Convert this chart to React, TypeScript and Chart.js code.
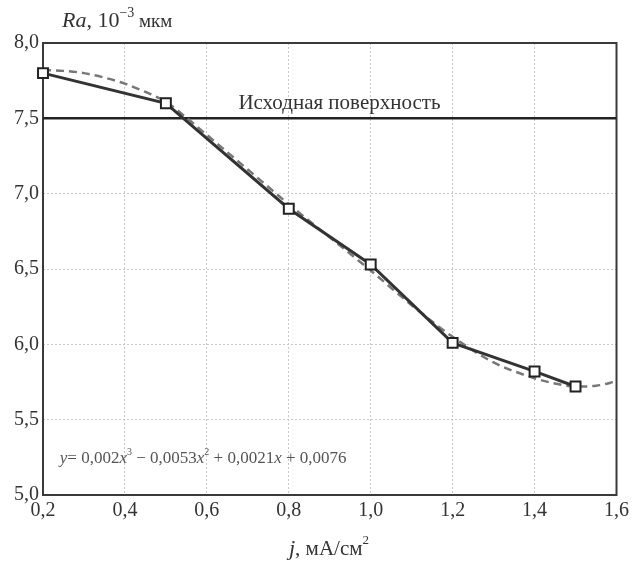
import React, { useEffect, useRef } from "react";
import { Chart, registerables } from "chart.js";

Chart.register(...registerables);

const measuredJ = [0.2, 0.5, 0.8, 1.0, 1.2, 1.4, 1.5];
const measuredRa = [7.8, 7.6, 6.9, 6.53, 6.01, 5.82, 5.72];

const trendJ = [0.2, 0.25, 0.3, 0.35, 0.4, 0.45, 0.5, 0.55, 0.6, 0.7, 0.8, 0.9, 1.0, 1.1, 1.2, 1.3, 1.4, 1.45, 1.5, 1.55, 1.6];
const trendRa = [7.82, 7.815, 7.8, 7.77, 7.73, 7.675, 7.61, 7.505, 7.39, 7.16, 6.93, 6.71, 6.49, 6.26, 6.05, 5.88, 5.775, 5.74, 5.72, 5.725, 5.755];

const baselineJ = [0.2, 1.6];
const baselineRa = [7.5, 7.5];

const xTicks = [0.2, 0.4, 0.6, 0.8, 1.0, 1.2, 1.4, 1.6];
const yTicks = [5.0, 5.5, 6.0, 6.5, 7.0, 7.5, 8.0];

const baselineLabel = "Исходная поверхность";
const SERIF = "'Liberation Serif', 'DejaVu Serif', serif";

type Seg = { t: string; style?: string; size: number; dy?: number };

function drawSegs(ctx: CanvasRenderingContext2D, segs: Seg[], x: number, y: number, color: string) {
  ctx.save();
  ctx.fillStyle = color;
  ctx.textBaseline = "alphabetic";
  ctx.textAlign = "left";
  let cx = x;
  for (const s of segs) {
    ctx.font = `${s.style || ""} ${s.size}px ${SERIF}`;
    ctx.fillText(s.t, cx, y + (s.dy || 0));
    cx += ctx.measureText(s.t).width;
  }
  ctx.restore();
}

function segsWidth(ctx: CanvasRenderingContext2D, segs: Seg[]) {
  let w = 0;
  ctx.save();
  for (const s of segs) {
    ctx.font = `${s.style || ""} ${s.size}px ${SERIF}`;
    w += ctx.measureText(s.t).width;
  }
  ctx.restore();
  return w;
}

const textPlugin = {
  id: "texts",
  beforeDatasetsDraw(chart: any) {
    const { ctx, chartArea } = chart;
    ctx.save();
    ctx.strokeStyle = "#3a3a3a";
    ctx.lineWidth = 2;
    ctx.strokeRect(chartArea.left, chartArea.top, chartArea.right - chartArea.left, chartArea.bottom - chartArea.top);
    ctx.restore();
  },
  afterDraw(chart: any) {
    const { ctx } = chart;
    const xs = chart.scales.x;
    const ys = chart.scales.y;
    drawSegs(ctx, [
      { t: "Ra", style: "italic", size: 22 },
      { t: ", 10", size: 22 },
      { t: "−3", size: 14, dy: -10 },
      { t: " мкм", size: 19 },
    ], 62, 27, "#333");
    const xt: Seg[] = [
      { t: "j", style: "italic", size: 22 },
      { t: ", мА/см", size: 21 },
      { t: "2", size: 13, dy: -11 },
    ];
    const w = segsWidth(ctx, xt);
    drawSegs(ctx, xt, 329 - w / 2, 555, "#333");
    ctx.save();
    ctx.font = `21px ${SERIF}`;
    ctx.fillStyle = "#333";
    ctx.textAlign = "left";
    ctx.textBaseline = "alphabetic";
    ctx.fillText(baselineLabel, xs.getPixelForValue(0.677), ys.getPixelForValue(7.56));
    ctx.restore();
    drawSegs(ctx, [
      { t: "y", style: "italic", size: 17 },
      { t: "= 0,002", size: 17 },
      { t: "x", style: "italic", size: 17 },
      { t: "3", size: 10, dy: -8 },
      { t: " − 0,0053", size: 17 },
      { t: "x", style: "italic", size: 17 },
      { t: "2", size: 10, dy: -8 },
      { t: " + 0,0021", size: 17 },
      { t: "x", style: "italic", size: 17 },
      { t: " + 0,0076", size: 17 },
    ], xs.getPixelForValue(0.241), ys.getPixelForValue(5.21), "#555");
  },
};

export default function App() {
  const ref = useRef<HTMLCanvasElement | null>(null);
  useEffect(() => {
    if (!ref.current) return;
    const fmt = (v: number) => v.toFixed(1).replace(".", ",");
    const chart = new Chart(ref.current, {
      type: "scatter",
      data: {
        datasets: [
          {
            data: measuredJ.map((x, i) => ({ x, y: measuredRa[i] })),
            showLine: true,
            borderColor: "#333",
            borderWidth: 3,
            pointStyle: "rect",
            pointRadius: 7,
            pointBorderWidth: 2,
            pointBackgroundColor: "#fff",
            pointBorderColor: "#222",
            clip: false,
            order: 0,
          },
          {
            data: trendJ.map((x, i) => ({ x, y: trendRa[i] })),
            showLine: true,
            borderColor: "#777",
            borderWidth: 2.5,
            borderDash: [8, 5],
            pointRadius: 0,
            cubicInterpolationMode: "monotone",
            order: 1,
          },
          {
            data: baselineJ.map((x, i) => ({ x, y: baselineRa[i] })),
            showLine: true,
            borderColor: "#222",
            borderWidth: 2.5,
            pointRadius: 0,
            order: 2,
          },
        ],
      },
      options: {
        animation: false,
        responsive: false,
        layout: { padding: { top: 43, right: 15, left: 0, bottom: 0 } },
        plugins: { legend: { display: false }, tooltip: { enabled: false } },
        scales: {
          x: {
            type: "linear",
            min: 0.2,
            max: 1.6,
            afterBuildTicks: (s: any) => { s.ticks = xTicks.map((v) => ({ value: v })); },
            afterFit: (s: any) => { s.height = 68; },
            ticks: {
              callback: (v: any) => fmt(Number(v)),
              color: "#333",
              font: { family: SERIF, size: 20 },
              padding: 4,
              maxRotation: 0,
            },
            grid: { color: "#c8c8c8", lineWidth: 1, drawTicks: false },
            border: { display: false, dash: [2, 2] },
          },
          y: {
            type: "linear",
            min: 5,
            max: 8,
            afterBuildTicks: (s: any) => { s.ticks = yTicks.map((v) => ({ value: v })); },
            afterFit: (s: any) => { s.width = 43; },
            ticks: {
              callback: (v: any) => fmt(Number(v)),
              color: "#333",
              font: { family: SERIF, size: 20 },
              padding: 4,
            },
            grid: { color: "#c8c8c8", lineWidth: 1, drawTicks: false },
            border: { display: false, dash: [2, 2] },
          },
        },
      } as any,
      plugins: [textPlugin],
    });
    return () => chart.destroy();
  }, []);
  return (
    <div style={{ position: "fixed", left: 0, top: 0, width: 633, height: 563, background: "#fff" }}>
      <canvas ref={ref} width={633} height={563} style={{ width: 633, height: 563 }} />
    </div>
  );
}
